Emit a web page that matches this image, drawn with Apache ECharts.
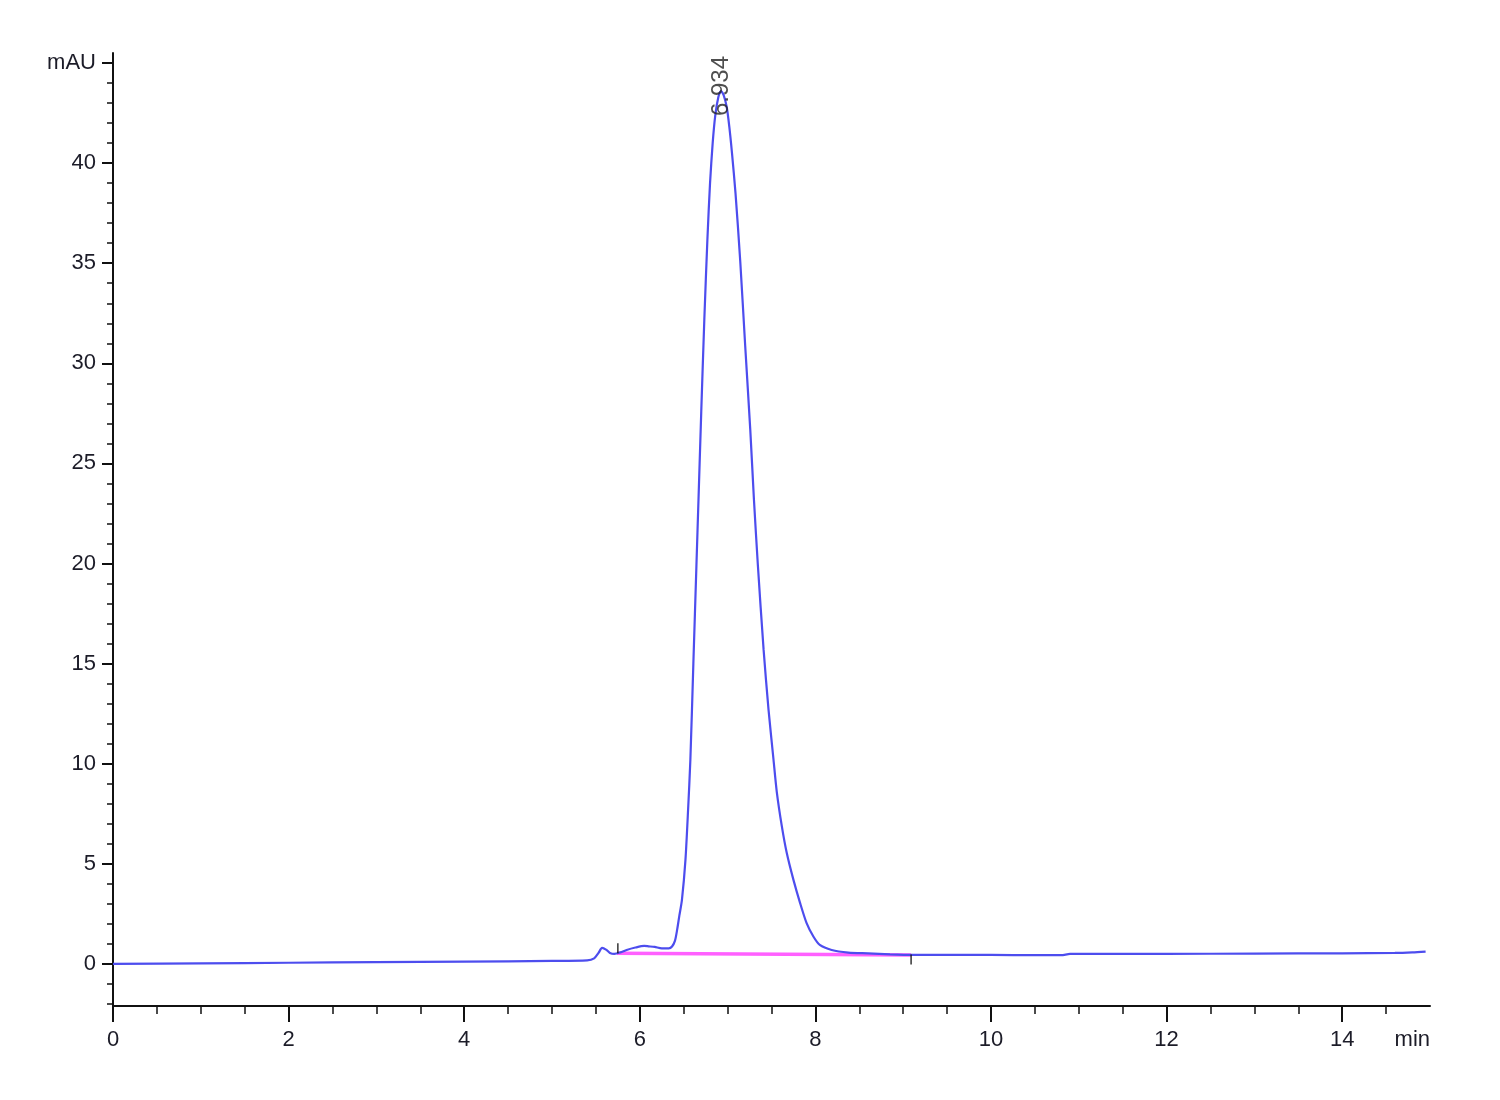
<!DOCTYPE html>
<html>
<head>
<meta charset="utf-8">
<script src="https://cdn.jsdelivr.net/npm/echarts@6/dist/echarts.min.js"></script>
<style>
html,body{margin:0;padding:0;background:#fff;}
#c{width:1500px;height:1100px;}
</style>
</head>
<body>
<div id="c"></div>
<script>
// Retention time (min)
const times = [0.0,1.0,2.0,3.0,4.0,5.0,5.4,5.48,5.53,5.57,5.62,5.66,5.71,5.78,5.85,5.95,6.05,6.1,6.17,6.25,6.33,6.367,6.40,6.425,6.45,6.48,6.52,6.55,6.576,6.61,6.645,6.67,6.70,6.735,6.77,6.80,6.83,6.86,6.895,6.925,6.955,6.99,7.02,7.05,7.09,7.144,7.20,7.258,7.30,7.345,7.41,7.466,7.523,7.56,7.617,7.674,7.75,7.826,7.90,7.977,8.05,8.185,8.375,8.6,8.85,9.10,9.50,10.0,10.5,10.8,10.9,11.5,12.0,13.0,14.0,14.6,14.8,14.95];
// Absorbance (mAU)
const signal = [0.0,0.03,0.06,0.09,0.12,0.15,0.18,0.28,0.55,0.8,0.7,0.55,0.5,0.58,0.7,0.82,0.9,0.88,0.85,0.78,0.78,0.87,1.15,1.7,2.4,3.2,5.2,7.7,10.2,15.0,19.9,23.4,27.6,32.2,36.2,39.0,41.0,42.4,43.3,43.6,43.4,42.8,41.8,40.5,38.5,35.1,30.9,26.7,23.2,19.9,15.7,12.7,10.2,8.6,6.9,5.54,4.2,3.04,2.04,1.37,0.95,0.7,0.57,0.53,0.48,0.45,0.45,0.45,0.44,0.44,0.5,0.5,0.5,0.52,0.53,0.55,0.58,0.62];
// Integration baseline
const baseT = [5.74, 9.09];
const baseY = [0.53, 0.45];
// Integration start/end markers
const markT = [5.75, 9.09];
const markY = [0.78, 0.22];
// Peak annotation
const peakT = 6.934;
const peakY = 43.6;
const peakLabel = '6.934';
// Axis ticks
const xMajor = [0,2,4,6,8,10,12,14];
const xMinor = [0,0.5,1,1.5,2,2.5,3,3.5,4,4.5,5,5.5,6,6.5,7,7.5,8,8.5,9,9.5,10,10.5,11,11.5,12,12.5,13,13.5,14,14.5];
const yMajor = [0,5,10,15,20,25,30,35,40,45];
const yMinor = [-2,-1,0,1,2,3,4,5,6,7,8,9,10,11,12,13,14,15,16,17,18,19,20,21,22,23,24,25,26,27,28,29,30,31,32,33,34,35,36,37,38,39,40,41,42,43,44,45];
const yUnit = 'mAU';
const xUnit = 'min';

const FONT = '"Liberation Sans", Arial, sans-serif';
const TXT = '#1c1c28';
const FS = 22;
const curve = times.map((t,i)=>[t, signal[i]]);
const base = baseT.map((t,i)=>[t, baseY[i]]);
const marks = markT.map((t,i)=>[t, markY[i]]);

const chart = echarts.init(document.getElementById('c'), null, {renderer:'canvas'});
chart.setOption({
  animation:false,
  backgroundColor:'#fff',
  grid:{left:113, right:70, top:53, bottom:94, containLabel:false},
  xAxis:[{
    type:'value', min:0, max:15, position:'bottom',
    name:xUnit, nameLocation:'end', nameGap:0,
    nameTextStyle:{fontFamily:FONT, fontSize:FS, color:TXT, align:'right', verticalAlign:'top', padding:[23,0,0,0]},
    axisLine:{show:true, onZero:false, lineStyle:{color:'#111', width:2}},
    axisTick:{show:true, customValues:xMajor, length:16, lineStyle:{color:'#111', width:2}},
    axisLabel:{show:true, customValues:xMajor, margin:23, fontFamily:FONT, fontSize:FS, color:TXT},
    splitLine:{show:false}
  },{
    type:'value', min:0, max:15, position:'bottom', offset:0,
    axisLine:{show:false, onZero:false},
    axisTick:{show:true, customValues:xMinor, length:8, lineStyle:{color:'#111', width:1.5}},
    axisLabel:{show:false},
    splitLine:{show:false}
  }],
  yAxis:[{
    type:'value', min:-2.1, max:45.5, position:'left',
    axisLine:{show:true, onZero:false, lineStyle:{color:'#111', width:2}},
    axisTick:{show:true, customValues:yMajor, length:11, lineStyle:{color:'#111', width:2}},
    axisLabel:{show:true, customValues:yMajor, margin:17, fontFamily:FONT, fontSize:FS, color:TXT,
      formatter:v=> v===45 ? yUnit : String(v)},
    splitLine:{show:false}
  },{
    type:'value', min:-2.1, max:45.5, position:'left', offset:0,
    axisLine:{show:false, onZero:false},
    axisTick:{show:true, customValues:yMinor, length:6, lineStyle:{color:'#111', width:1.5}},
    axisLabel:{show:false},
    splitLine:{show:false}
  }],
  series:[{
    type:'line', data:base, xAxisIndex:0, yAxisIndex:0,
    showSymbol:false, symbol:'none',
    lineStyle:{color:'#ff44ff', width:3.5, opacity:0.85},
    z:2
  },{
    type:'line', data:curve, xAxisIndex:0, yAxisIndex:0,
    showSymbol:false, symbol:'none', smooth:0.25,
    lineStyle:{color:'#4d4dee', width:2.2},
    z:3
  },{
    type:'scatter', data:marks, xAxisIndex:0, yAxisIndex:0,
    symbol:'rect', symbolSize:[1.6,10],
    itemStyle:{color:'#111'}, z:4
  },{
    type:'scatter', data:[[peakT, peakY]], xAxisIndex:0, yAxisIndex:0,
    symbol:'circle', symbolSize:0.1, itemStyle:{color:'transparent'},
    label:{show:true, formatter:peakLabel, position:'inside', rotate:90, align:'left', verticalAlign:'middle',
      offset:[-25,0], fontFamily:FONT, fontSize:24, color:'#222'},
    z:5
  }]
});
</script>
</body>
</html>
